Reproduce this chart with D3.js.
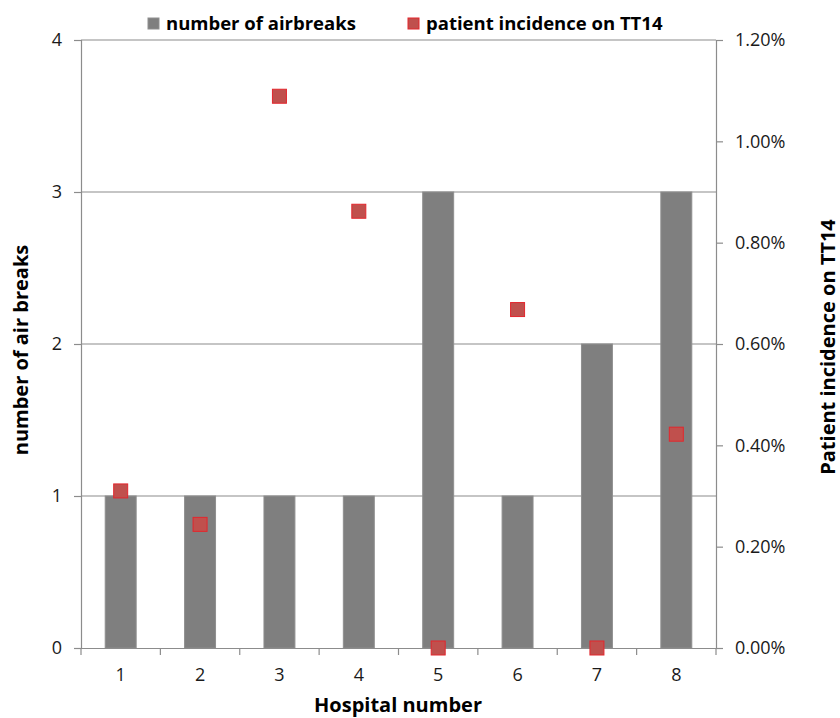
<!DOCTYPE html>
<html><head><meta charset="utf-8">
<script src="https://cdn.jsdelivr.net/npm/d3@7"></script>
<style>body{margin:0;background:#fff}svg{display:block}text{font-family:"Open Sans",sans-serif}</style>
</head><body>
<svg id="c" width="840" height="718"></svg>
<script>
const hospitals = ["1","2","3","4","5","6","7","8"];
const airbreaks = [1,1,1,1,3,1,2,3];
const incidence = [0.0031,0.00244,0.01089,0.00862,0,0.00668,0,0.00422];
const leftTicks = [0,1,2,3,4];
const rightTicks = [0,0.002,0.004,0.006,0.008,0.010,0.012];

const svg = d3.select("#c");
const L=81,R=716,T=40,B=648;
const x = d3.scaleBand().domain(hospitals).range([L,R]).paddingInner(0.61).paddingOuter(0.305);
const xb = d3.scaleBand().domain(hospitals).range([L,R]);
const yL = d3.scaleLinear().domain([0,4]).range([B,T]);
const yR = d3.scaleLinear().domain([0,0.012]).range([B,T]);
const axisCol="#8c8c8c";

// gridlines
svg.append("g").selectAll("line").data(leftTicks.filter(d=>d>0)).join("line")
  .attr("x1",L).attr("x2",R).attr("y1",d=>yL(d)).attr("y2",d=>yL(d))
  .attr("stroke",axisCol).attr("stroke-width",1.2);

// bars
svg.append("g").selectAll("rect").data(hospitals).join("rect")
  .attr("x",d=>x(d)).attr("width",x.bandwidth())
  .attr("y",(d,i)=>yL(airbreaks[i])).attr("height",(d,i)=>B-yL(airbreaks[i]))
  .attr("fill","#7f7f7f").attr("stroke","#8f8f8f").attr("stroke-width",1);

// left axis
const gL = svg.append("g").attr("transform",`translate(${L},0)`)
  .call(d3.axisLeft(yL).tickValues(leftTicks).tickFormat(d3.format("d")).tickSize(7).tickPadding(12));
// right axis
const gR = svg.append("g").attr("transform",`translate(${R},0)`)
  .call(d3.axisRight(yR).tickValues(rightTicks).tickFormat(d3.format(".2%")).tickSize(7).tickPadding(12));
// bottom axis
const gB = svg.append("g").attr("transform",`translate(0,${B})`)
  .call(d3.axisBottom(xb).tickSize(0).tickPadding(20));
svg.append("g").selectAll("line").data(hospitals.concat(["end"])).join("line")
  .attr("x1",(d,i)=>L+i*xb.bandwidth()).attr("x2",(d,i)=>L+i*xb.bandwidth())
  .attr("y1",B).attr("y2",B+7).attr("stroke",axisCol).attr("stroke-width",1.2);

[gL,gR,gB].forEach(g=>{
  g.selectAll(".domain").attr("stroke",axisCol).attr("stroke-width",1.2);
  g.selectAll(".tick line").attr("stroke",axisCol).attr("stroke-width",1.2);
  g.selectAll("text").attr("fill","#1a1a1a").style("font-size","18px").style("font-family","'Open Sans',sans-serif");
});
gB.select(".domain").attr("d",`M${L-7},0.5H${R}`);

// points
svg.append("g").selectAll("rect").data(hospitals).join("rect")
  .attr("x",d=>xb(d)+xb.bandwidth()/2-7).attr("y",(d,i)=>yR(incidence[i])-7)
  .attr("width",14).attr("height",14)
  .attr("fill","#c0504d").attr("stroke","#e3262d").attr("stroke-width",1);

// axis titles
svg.append("text").attr("transform","translate(28,350) rotate(-90)").attr("text-anchor","middle")
  .style("font-size","20px").style("font-weight","bold").text("number of air breaks");
svg.append("text").attr("transform","translate(835,347) rotate(-90)").attr("text-anchor","middle")
  .style("font-size","20px").style("font-weight","bold").text("Patient incidence on TT14");
svg.append("text").attr("x",398).attr("y",712).attr("text-anchor","middle")
  .style("font-size","20px").style("font-weight","bold").text("Hospital number");

// legend
const leg = [{label:"number of airbreaks",fill:"#7f7f7f",stroke:"#8f8f8f",x:148},
             {label:"patient incidence on TT14",fill:"#c0504d",stroke:"#e3262d",x:408}];
const lg = svg.append("g").selectAll("g").data(leg).join("g");
lg.append("rect").attr("x",d=>d.x).attr("y",18).attr("width",11).attr("height",11)
  .attr("fill",d=>d.fill).attr("stroke",d=>d.stroke);
lg.append("text").attr("x",d=>d.x+18).attr("y",30).style("font-size","18.5px").style("font-weight","bold")
  .text(d=>d.label);
</script>
</body></html>
